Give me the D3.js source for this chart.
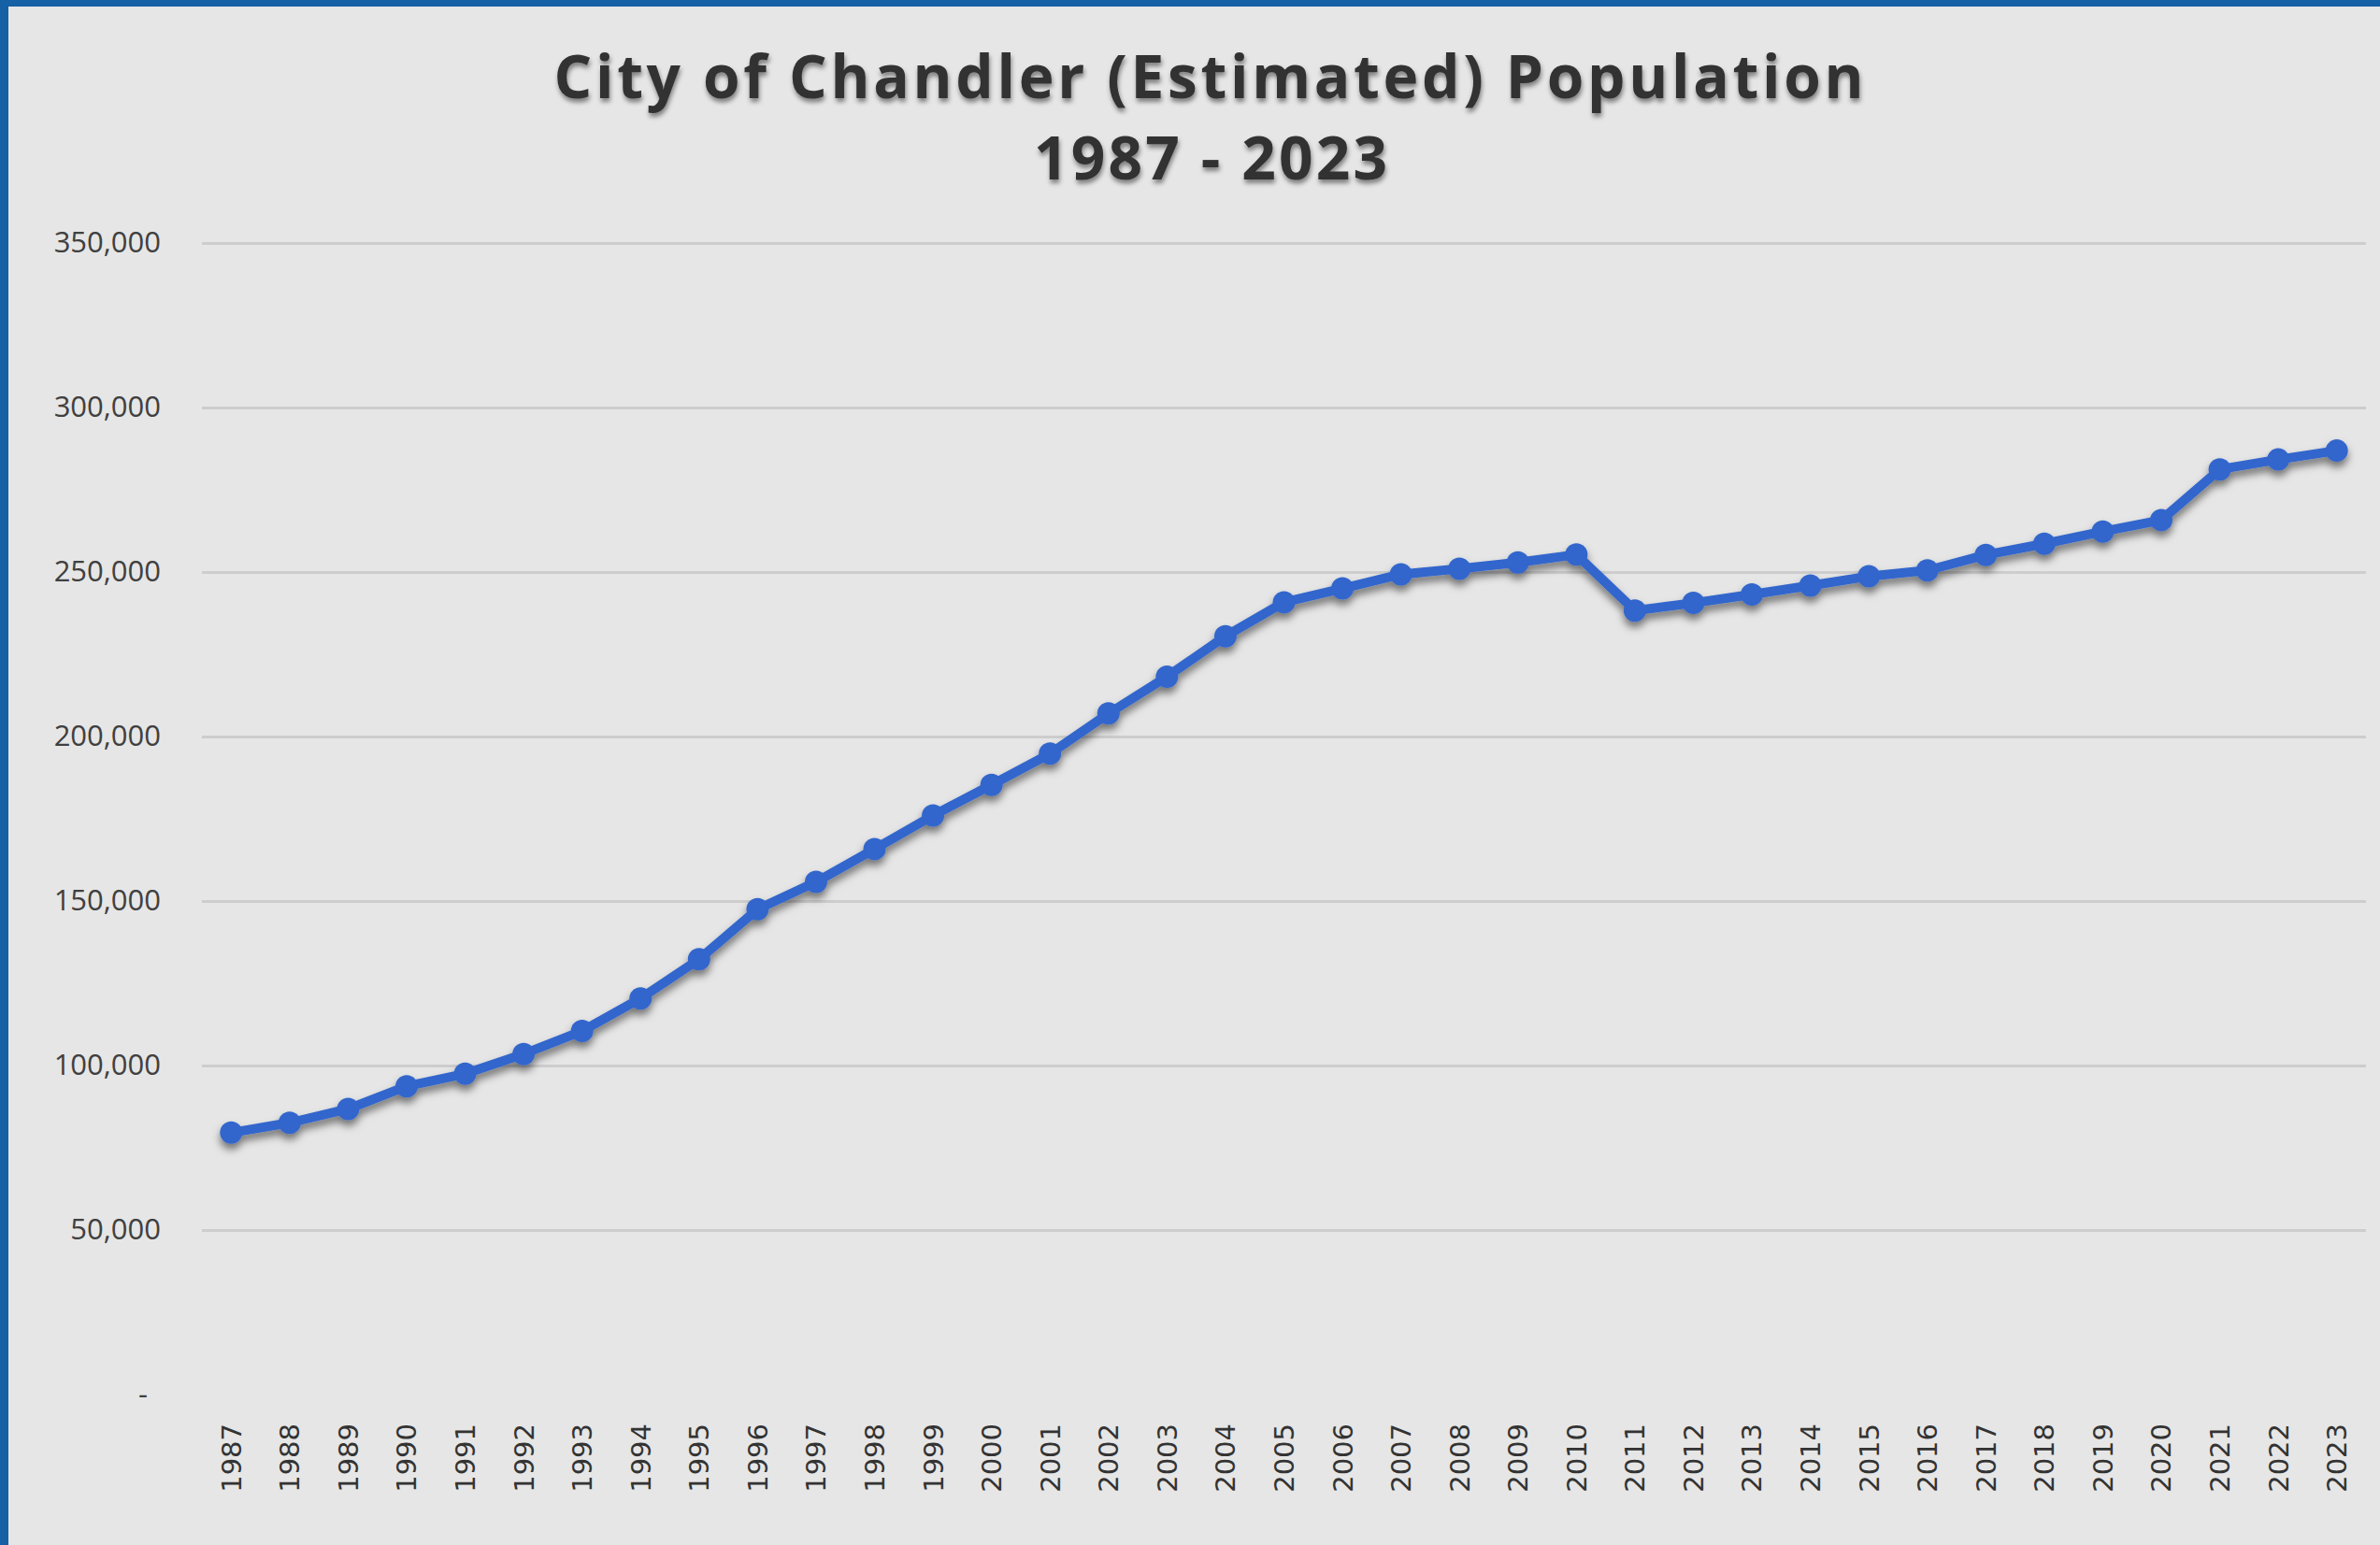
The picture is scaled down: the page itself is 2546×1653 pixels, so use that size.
<!DOCTYPE html>
<html>
<head>
<meta charset="utf-8">
<script src="https://cdn.jsdelivr.net/npm/d3@7"></script>
<style>
  html, body { margin: 0; padding: 0; background: #1660a5; }
  svg { display: block; }
</style>
</head>
<body>
<svg id="chart" width="2546" height="1653"></svg>
<script>
// ---- Data ----
const titleLines = ["City of Chandler (Estimated) Population", "1987 - 2023"];
const years = [1987,1988,1989,1990,1991,1992,1993,1994,1995,1996,1997,1998,1999,2000,2001,2002,2003,2004,2005,2006,2007,2008,2009,2010,2011,2012,2013,2014,2015,2016,2017,2018,2019,2020,2021,2022,2023];
const population = [79600,82600,86800,93700,97500,103500,110500,120400,132300,147500,155800,165800,176000,185300,194800,207000,218200,230500,240800,245000,249300,251000,252900,255300,238300,240600,243200,245900,248700,250500,255200,258600,262300,265800,281200,284200,286900];
const yTicks = [0,50000,100000,150000,200000,250000,300000,350000];

// ---- Layout ----
const W = 2546, H = 1653;
const plot = { left: 216, right: 2531, top: 260, bottom: 1492 };

const svg = d3.select("#chart");

const defs = svg.append("defs");
const sh = defs.append("filter").attr("id","lineShadow")
  .attr("x","-5%").attr("y","-20%").attr("width","110%").attr("height","140%");
sh.append("feDropShadow").attr("dx",0).attr("dy",6).attr("stdDeviation",4)
  .attr("flood-color","#000").attr("flood-opacity",0.5);
const tsh = defs.append("filter").attr("id","titleShadow")
  .attr("x","-5%").attr("y","-30%").attr("width","110%").attr("height","160%");
tsh.append("feDropShadow").attr("dx",1).attr("dy",4).attr("stdDeviation",2.5)
  .attr("flood-color","#000").attr("flood-opacity",0.45);

// blue frame + gray panel
svg.append("rect").attr("x",0).attr("y",0).attr("width",W).attr("height",H).attr("fill","#1660a5");
svg.append("rect").attr("x",9).attr("y",7).attr("width",W-9).attr("height",H-7).attr("fill","#e6e6e6");

// ---- Scales ----
const x = d3.scaleBand().domain(years).range([plot.left, plot.right]).padding(0);
const y = d3.scaleLinear().domain([0, 350000]).range([plot.bottom, plot.top]);
const cx = d => x(d) + x.bandwidth()/2;

// gridlines
const grid = svg.append("g").attr("transform",`translate(${plot.left},0)`)
  .call(d3.axisLeft(y).tickValues(yTicks.filter(v => v > 0))
        .tickSize(-(plot.right - plot.left)).tickFormat(""));
grid.select(".domain").remove();
grid.selectAll("line").attr("stroke","#cdcdcd").attr("stroke-width",3);

// y axis labels
const yAxis = svg.append("g").attr("transform",`translate(172,0)`)
  .call(d3.axisLeft(y).tickValues(yTicks).tickSize(0).tickPadding(0)
        .tickFormat(v => v === 0 ? "-" : d3.format(",")(v)));
yAxis.select(".domain").remove();
yAxis.selectAll("text")
  .attr("font-family","'Open Sans', sans-serif").attr("font-size",31)
  .attr("fill","#404040").attr("text-anchor","end")
  .attr("dx", v => v === 0 ? -14 : 0);

// x axis labels
const xAxis = svg.append("g").attr("transform",`translate(0,${plot.bottom})`)
  .call(d3.axisBottom(x).tickSize(0).tickPadding(0));
xAxis.select(".domain").remove();
xAxis.selectAll("text")
  .attr("font-family","'DejaVu Sans', sans-serif").attr("font-size",29)
  .attr("fill","#333")
  .attr("text-anchor","end")
  .attr("transform","rotate(-90)")
  .attr("x",-31).attr("y",0).attr("dy","0.36em");

// line + markers
const series = years.map((yr,i) => ({yr, v: population[i]}));
const gLine = svg.append("g").attr("filter","url(#lineShadow)");
gLine.append("path").datum(series)
  .attr("fill","none").attr("stroke","#3366cc").attr("stroke-width",10)
  .attr("stroke-linejoin","round").attr("stroke-linecap","round")
  .attr("d", d3.line().x(d => cx(d.yr)).y(d => y(d.v)));
gLine.selectAll("circle").data(series).enter().append("circle")
  .attr("cx", d => cx(d.yr)).attr("cy", d => y(d.v)).attr("r",12)
  .attr("fill","#3366cc");

// title
const title = svg.append("g").attr("filter","url(#titleShadow)");
title.append("text").text(titleLines[0])
  .attr("x",1293).attr("y",105).attr("text-anchor","middle")
  .attr("font-family","'Open Sans', sans-serif").attr("font-weight",700)
  .attr("font-size",64).attr("fill","#333")
  .attr("textLength",1401).attr("lengthAdjust","spacing");
title.append("text").text(titleLines[1])
  .attr("x",1295).attr("y",192).attr("text-anchor","middle")
  .attr("font-family","'Open Sans', sans-serif").attr("font-weight",700)
  .attr("font-size",64).attr("fill","#333")
  .attr("textLength",378).attr("lengthAdjust","spacing");
</script>
</body>
</html>
